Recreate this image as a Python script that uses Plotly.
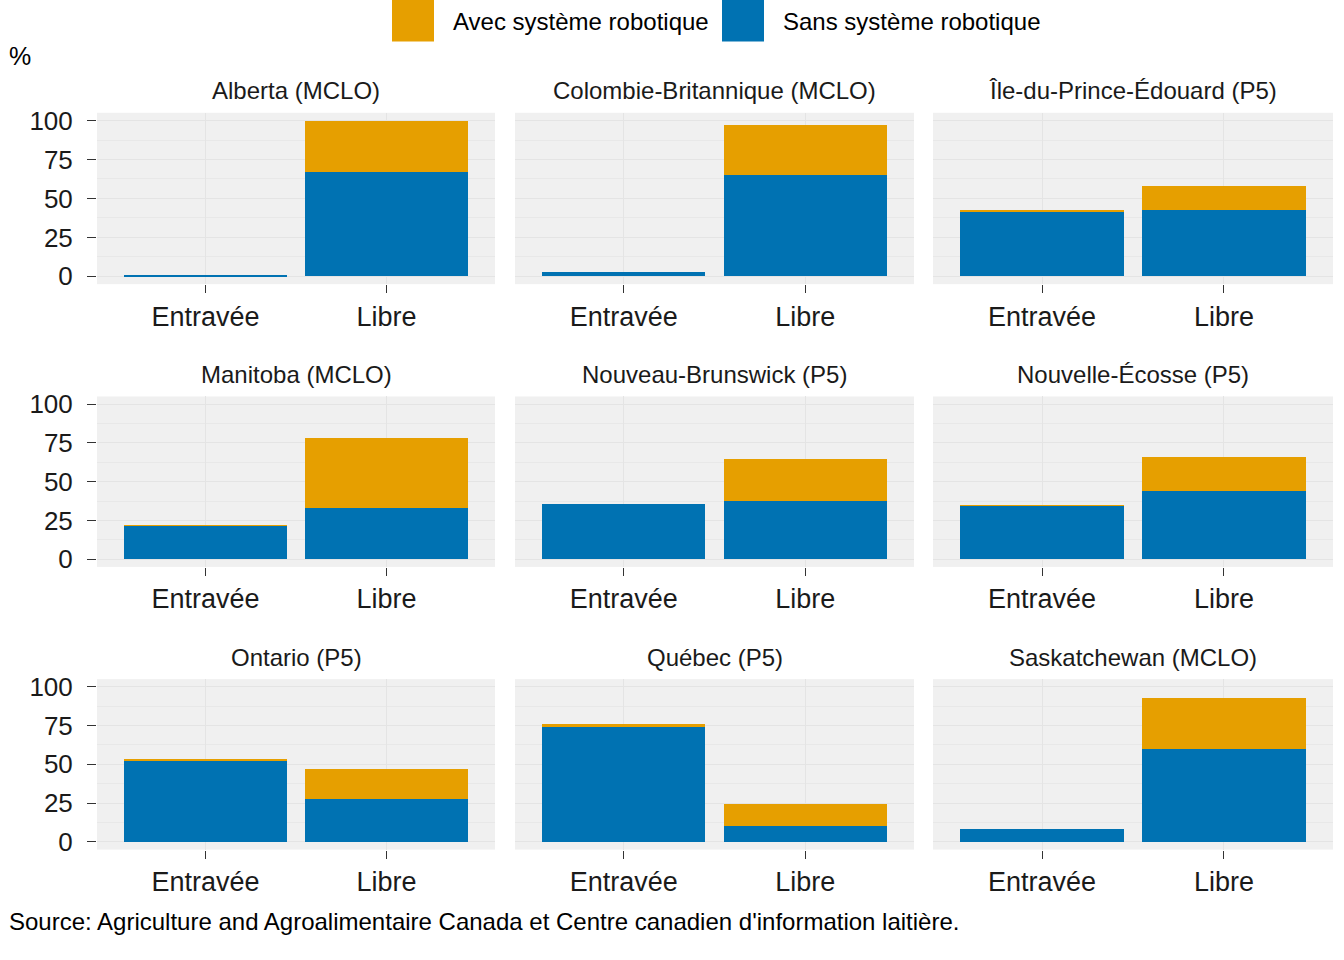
import plotly.graph_objects as go

provinces = ["Alberta (MCLO)", "Colombie-Britannique (MCLO)", "Île-du-Prince-Édouard (P5)",
             "Manitoba (MCLO)", "Nouveau-Brunswick (P5)", "Nouvelle-Écosse (P5)",
             "Ontario (P5)", "Québec (P5)", "Saskatchewan (MCLO)"]
categories = ["Entravée", "Libre"]

# Sans système robotique (blue, bottom of stack)
sans_entravee = [0.5, 3.0, 41.0, 21.1, 35.7, 34.0, 52.6, 74.1, 8.4]
sans_libre = [66.9, 64.8, 42.3, 33.2, 37.7, 44.0, 27.7, 10.3, 59.9]
# Avec système robotique (yellow, top of stack)
avec_entravee = [0.0, 0.0, 1.3, 0.6, 0.0, 0.5, 0.8, 1.9, 0.0]
avec_libre = [32.6, 32.2, 15.4, 45.3, 26.8, 21.7, 19.3, 14.2, 32.8]

y_ticks = [0, 25, 50, 75, 100]
y_minor = [12.5, 37.5, 62.5, 87.5]

BLUE = "#0072B2"
YELLOW = "#E69F00"
BG = "#F0F0F0"
GRID = "#E4E4E4"
FONT = "Liberation Sans, Arial, sans-serif"

W, H = 1344, 960
def fx(p):
    return p / W
def fy(p):
    # compensate observed vertical offset/scale of the capture
    d = (p - 6.5) / 0.983
    return 1 - d / H

col_px = [(97, 495), (515, 914), (933, 1333)]
row_px = [(112, 283), (395, 565), (677, 847)]

fig = go.Figure()
annotations = []
shapes = []
for i, prov in enumerate(provinces):
    r, c = divmod(i, 3)
    n = i + 1
    xa = "x" if n == 1 else f"x{n}"
    ya = "y" if n == 1 else f"y{n}"
    fig.add_trace(go.Bar(x=categories, y=[sans_entravee[i], sans_libre[i]],
                         marker_color=BLUE, marker_line_width=0, width=0.9,
                         xaxis=xa, yaxis=ya, showlegend=False,
                         name="Sans système robotique"))
    fig.add_trace(go.Bar(x=categories, y=[avec_entravee[i], avec_libre[i]],
                         marker_color=YELLOW, marker_line_width=0, width=0.9,
                         xaxis=xa, yaxis=ya, showlegend=False,
                         name="Avec système robotique"))
    x0, x1 = col_px[c]
    y0, y1 = row_px[r]
    fig.layout[f"xaxis{'' if n == 1 else n}"] = dict(
        domain=[fx(x0), fx(x1)], anchor=ya, type="category",
        range=[-0.6, 1.6], showgrid=True, gridcolor=GRID, gridwidth=1.3,
        ticks="outside", ticklen=8, tickcolor="#333333", tickwidth=1,
        tickfont=dict(family=FONT, size=27, color="#1A1A1A"),
        showline=False, zeroline=False, fixedrange=True)
    fig.layout[f"yaxis{'' if n == 1 else n}"] = dict(
        domain=[fy(y1), fy(y0)], anchor=xa, range=[-5, 105],
        tickvals=y_ticks, ticktext=[str(v) for v in y_ticks],
        showticklabels=(c == 0), ticks="outside" if c == 0 else "",
        ticklen=9, tickcolor="#333333", tickwidth=1, ticklabelstandoff=9,
        tickfont=dict(family=FONT, size=26, color="#1A1A1A"),
        showgrid=True, gridcolor=GRID, gridwidth=1.3,
        minor=dict(tickvals=y_minor, showgrid=True, gridcolor="#E8E8E8",
                   gridwidth=0.8, ticks=""),
        showline=False, zeroline=False, fixedrange=True)
    annotations.append(dict(text=prov, x=fx((x0 + x1) / 2), y=fy(y0 - 22),
                            xref="paper", yref="paper", showarrow=False,
                            xanchor="center", yanchor="middle",
                            font=dict(family=FONT, size=24, color="#1A1A1A")))

# Legend (drawn manually to match large keys)
legend_items = [("Avec système robotique", YELLOW, 392, 434, 451),
                ("Sans système robotique", BLUE, 722, 764, 781)]
for label, col, kx0, kx1, tx in legend_items:
    shapes.append(dict(type="rect", xref="paper", yref="paper",
                       x0=fx(kx0), x1=fx(kx1), y0=fy(41), y1=1.02,
                       fillcolor=col, line=dict(width=0)))
    annotations.append(dict(text=label, x=fx(tx), y=fy(21), xref="paper", yref="paper",
                            showarrow=False, xanchor="left", yanchor="middle",
                            font=dict(family=FONT, size=24, color="#000000")))

annotations.append(dict(text="%", x=fx(7), y=fy(55), xref="paper", yref="paper",
                        showarrow=False, xanchor="left", yanchor="middle",
                        font=dict(family=FONT, size=25, color="#000000")))
annotations.append(dict(text="Source: Agriculture and Agroalimentaire Canada et Centre canadien d'information laitière.",
                        x=fx(7), y=fy(919), xref="paper", yref="paper",
                        showarrow=False, xanchor="left", yanchor="middle",
                        font=dict(family=FONT, size=24, color="#000000")))

fig.update_layout(width=W, height=H, autosize=False, barmode="stack",
                  margin=dict(l=0, r=0, t=0, b=0),
                  paper_bgcolor="white", plot_bgcolor=BG,
                  showlegend=False, annotations=annotations, shapes=shapes,
                  font=dict(family=FONT))

css_js = ("var s=document.createElement('style');"
          "s.innerHTML='html,body{margin:0 !important;padding:0 !important;"
          "overflow:hidden;width:1344px;height:960px;}';"
          "document.head.appendChild(s);")

fig.write_html("out.html", config={"displayModeBar": False}, post_script=css_js)
